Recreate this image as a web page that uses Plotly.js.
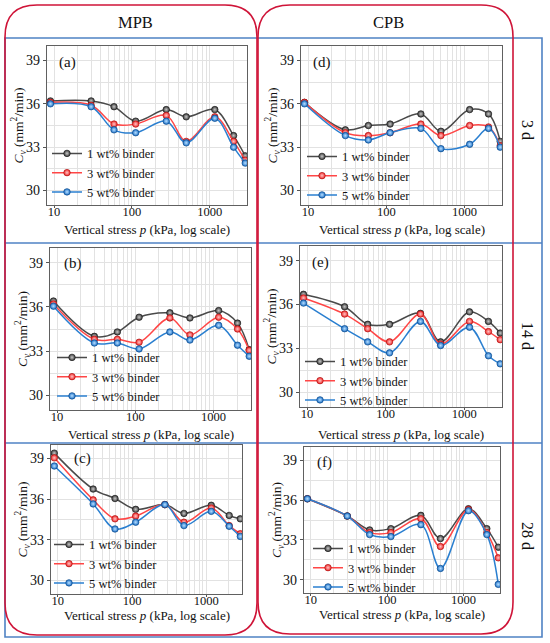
<!DOCTYPE html>
<html>
<head>
<meta charset="utf-8">
<script src="https://cdn.plot.ly/plotly-3.0.1.min.js"></script>
<style>
html,body{margin:0;padding:0;background:#fff;}
#chart{width:550px;height:643px;}
</style>
</head>
<body>
<div id="chart"></div>
<script>
// ---- data ----
const pressure = [9, 30, 59, 112, 277, 500, 1165, 2030, 2865]; // kPa
const seriesNames = ['1 wt% binder', '3 wt% binder', '5 wt% binder'];
const panelLabels = ['(a)', '(b)', '(c)', '(d)', '(e)', '(f)'];
const columnLabels = ['MPB', 'CPB'];
const rowLabels = ['3 d', '14 d', '28 d'];
const xTickVals = [10, 100, 1000];
const yTickVals = [30, 33, 36, 39];
const xTitle = 'Vertical stress <i>p</i> (kPa, log scale)';
const yTitle = '<i>C</i><sub><i>v</i></sub> (mm<sup>2</sup>/min)';

const mpb3d_1 = [36.2, 36.2, 35.8, 34.8, 35.6, 35.1, 35.6, 33.8, 32.4];
const mpb3d_3 = [36.1, 35.9, 34.6, 34.6, 35.2, 33.4, 35.1, 33.4, 32.1];
const mpb3d_5 = [36.0, 35.8, 34.2, 34.0, 34.8, 33.3, 35.0, 33.0, 31.9];

const mpb14d_1 = [36.4, 34.0, 34.3, 35.3, 35.6, 35.25, 35.75, 34.9, 33.1];
const mpb14d_3 = [36.2, 33.8, 33.8, 33.6, 35.25, 34.1, 35.3, 34.5, 33.05];
const mpb14d_5 = [36.05, 33.55, 33.55, 33.15, 34.3, 33.75, 34.75, 33.4, 32.65];

const mpb28d_1 = [39.4, 36.75, 36.05, 35.25, 35.6, 34.95, 35.55, 34.8, 34.55];
const mpb28d_3 = [39.05, 35.95, 34.55, 34.75, 35.6, 34.3, 35.35, 34.05, 33.45];
const mpb28d_5 = [38.45, 35.65, 33.8, 34.3, 35.6, 34.05, 35.1, 34.0, 33.25];

const cpb3d_1 = [36.1, 34.2, 34.5, 34.6, 35.3, 34.1, 35.6, 35.3, 33.4];
const cpb3d_3 = [36.1, 34.0, 33.8, 34.0, 34.6, 33.8, 34.5, 34.4, 33.1];
const cpb3d_5 = [36.0, 33.8, 33.5, 34.0, 34.3, 32.9, 33.2, 34.3, 33.0];

const cpb14d_1 = [36.7, 35.85, 34.65, 34.65, 35.4, 33.45, 35.5, 34.85, 34.05];
const cpb14d_3 = [36.45, 35.35, 34.35, 33.45, 35.35, 33.3, 34.85, 34.15, 33.6];
const cpb14d_5 = [36.1, 34.35, 33.45, 32.7, 34.85, 33.2, 34.45, 32.5, 31.95];

const cpb28d_1 = [36.1, 34.8, 33.75, 33.85, 34.85, 33.1, 35.35, 33.85, 32.45];
const cpb28d_3 = [36.1, 34.8, 33.55, 33.55, 34.6, 32.5, 35.3, 33.55, 31.65];
const cpb28d_5 = [36.1, 34.8, 33.4, 33.25, 34.15, 30.85, 35.2, 33.4, 29.65];

const panelData = [
  [mpb3d_1, mpb3d_3, mpb3d_5],
  [mpb14d_1, mpb14d_3, mpb14d_5],
  [mpb28d_1, mpb28d_3, mpb28d_5],
  [cpb3d_1, cpb3d_3, cpb3d_5],
  [cpb14d_1, cpb14d_3, cpb14d_5],
  [cpb28d_1, cpb28d_3, cpb28d_5]
];

// ---- styling / geometry ----
const W = 550, H = 643;
const FONT = 'Liberation Serif, Times New Roman, serif';
const lineColors = ['#4a4a4a', '#ff4646', '#2a7fd0'];
const markerColors = ['#3a3a3a', '#f02828', '#1c6fc8'];
const markerGlow = ['#c8c8c8', '#ffc4c4', '#b8e0ff'];
const markerLine = ['#1e1e1e', '#b01414', '#0f4d8c'];
// panel plot areas in pixels: [left, right, top, bottom]
const boxes = [
  [47, 247, 46, 205],
  [50, 251, 248, 410],
  [51, 242, 445, 594],
  [301, 502, 46, 205],
  [300, 502, 246, 407],
  [304, 500, 447, 593]
];
// legend: [pixel x of sample line start, pixel y of legend block centre]
const legPos = [
  [55, 173], [60, 377], [57, 564], [310, 176], [308, 381], [316, 568]
];
const LEG_FS = 12.5;
const LEG_STEP = Math.max(LEG_FS * 1.3, 16) + 3;
const labelPos = [[57, 62], [62, 263], [72, 458], [311, 62], [310, 262], [315, 462]];
const xTitleY = [229, 434, 615, 229, 434, 614];

const px = x => x / W;
const py = y => 1 - y / H;

const minorX = [];
[10, 100, 1000].forEach(d => { for (let k = 2; k <= 9; k++) if (d * k < 3100) minorX.push(d * k); });

const traces = [];
const layout = {
  width: W, height: H,
  margin: {l: 0, r: 0, t: 0, b: 0, pad: 0},
  paper_bgcolor: '#fff', plot_bgcolor: '#fff',
  font: {family: FONT, color: '#111', size: 13},
  showlegend: true,
  annotations: [],
  shapes: []
};

panelData.forEach((series, i) => {
  const n = i + 1;
  const sfx = n === 1 ? '' : String(n);
  const b = boxes[i];
  series.forEach((vals, s) => {
    traces.push({
      type: 'scatter', mode: 'lines+markers',
      x: pressure, y: vals,
      name: seriesNames[s],
      xaxis: 'x' + sfx, yaxis: 'y' + sfx,
      legend: 'legend' + sfx,
      line: {color: lineColors[s], width: 1.5, shape: 'spline', smoothing: 1},
      marker: {size: 6.5, color: markerColors[s], line: {color: markerLine[s], width: 0.7},
               gradient: {type: 'radial', color: markerGlow[s]}}
    });
  });
  layout['xaxis' + sfx] = {
    type: 'log', range: [0.91, 3.48], domain: [px(b[0]), px(b[1])],
    anchor: 'y' + sfx,
    tickvals: xTickVals, ticktext: xTickVals.map(String),
    ticks: 'outside', ticklen: 2, tickcolor: '#555', ticklabelstandoff: -7,
    showline: true, linecolor: '#606060', linewidth: 1.3, mirror: true,
    showgrid: true, gridcolor: '#e2e2e2', gridwidth: 1, zeroline: false,
    minor: {tickvals: minorX, showgrid: true, gridcolor: '#e2e2e2', gridwidth: 1, ticks: ''},
    tickfont: {size: 12.5, family: FONT, color: '#111'},
    automargin: false, fixedrange: true
  };
  layout['yaxis' + sfx] = {
    range: [29, 40], domain: [py(b[3]), py(b[2])],
    anchor: 'x' + sfx,
    tickvals: yTickVals, ticktext: yTickVals.map(String),
    ticks: 'outside', ticklen: 3, tickcolor: '#555',
    showline: true, linecolor: '#606060', linewidth: 1.3, mirror: true,
    showgrid: true, gridcolor: '#e2e2e2', gridwidth: 1, zeroline: false,
    minor: {tickvals: [31.5, 34.5, 37.5], showgrid: true, gridcolor: '#e2e2e2', gridwidth: 1, ticks: ''},
    tickfont: {size: 14, family: FONT, color: '#111'},
    automargin: false, fixedrange: true
  };
  layout['legend' + sfx] = {
    x: px(legPos[i][0] - 8), y: py(legPos[i][1] - LEG_STEP - 15), xref: 'paper', yref: 'paper',
    xanchor: 'left', yanchor: 'top', bgcolor: 'rgba(0,0,0,0)', borderwidth: 0,
    font: {size: LEG_FS, family: FONT, color: '#111'}, itemwidth: 30, tracegroupgap: 0
  };
  // panel label
  layout.annotations.push({
    text: panelLabels[i], xref: 'paper', yref: 'paper',
    x: px(labelPos[i][0]), y: py(labelPos[i][1]), xanchor: 'left', yanchor: 'middle',
    showarrow: false, font: {size: 15, family: FONT, color: '#111'}
  });
  // x-axis title
  layout.annotations.push({
    text: xTitle, xref: 'paper', yref: 'paper',
    x: px((b[0] + b[1]) / 2), y: py(xTitleY[i]), xanchor: 'center', yanchor: 'middle',
    showarrow: false, font: {size: 13, family: FONT, color: '#111'}
  });
  // y-axis title
  layout.annotations.push({
    text: yTitle, xref: 'paper', yref: 'paper', textangle: -90,
    x: px(b[0] - 28), y: py((b[2] + b[3]) / 2), xanchor: 'center', yanchor: 'middle',
    showarrow: false, font: {size: 13.5, family: FONT, color: '#111'}
  });
});

// column and row headers
[[135, 22], [388, 22]].forEach((p, k) => layout.annotations.push({
  text: columnLabels[k], xref: 'paper', yref: 'paper', x: px(p[0]), y: py(p[1]),
  xanchor: 'center', yanchor: 'middle', showarrow: false, font: {size: 16.5, family: FONT, color: '#111'}
}));
[[528, 130], [528, 336], [528, 536]].forEach((p, k) => layout.annotations.push({
  text: rowLabels[k], xref: 'paper', yref: 'paper', x: px(p[0]), y: py(p[1]),
  xanchor: 'center', yanchor: 'middle', textangle: 90, showarrow: false,
  font: {size: 16, family: FONT, color: '#111'}
}));

// frame shapes
function roundRect(x0, y0, x1, y1, r) {
  const P = (x, y) => px(x) + ',' + py(y);
  return 'M' + P(x0 + r, y0) + ' L' + P(x1 - r, y0) + ' Q' + P(x1, y0) + ' ' + P(x1, y0 + r) +
    ' L' + P(x1, y1 - r) + ' Q' + P(x1, y1) + ' ' + P(x1 - r, y1) +
    ' L' + P(x0 + r, y1) + ' Q' + P(x0, y1) + ' ' + P(x0, y1 - r) +
    ' L' + P(x0, y0 + r) + ' Q' + P(x0, y0) + ' ' + P(x0 + r, y0) + ' Z';
}
const blue = '#4f82c4', red = '#cf1438';
layout.shapes.push({type: 'rect', xref: 'paper', yref: 'paper', x0: px(5), x1: px(542), y0: py(637), y1: py(38),
  line: {color: blue, width: 1.6}, layer: 'below'});
[243, 443].forEach(y => layout.shapes.push({type: 'line', xref: 'paper', yref: 'paper',
  x0: px(5), x1: px(542), y0: py(y), y1: py(y), line: {color: blue, width: 1.6}, layer: 'below'}));
layout.shapes.push({type: 'path', xref: 'paper', yref: 'paper', path: roundRect(5, 5, 257, 635, 32),
  line: {color: red, width: 1.6}, layer: 'below'});
layout.shapes.push({type: 'path', xref: 'paper', yref: 'paper', path: roundRect(258, 5, 513, 634, 32),
  line: {color: red, width: 1.6}, layer: 'below'});

Plotly.newPlot('chart', traces, layout, {staticPlot: true, displayModeBar: false});
</script>
</body>
</html>
